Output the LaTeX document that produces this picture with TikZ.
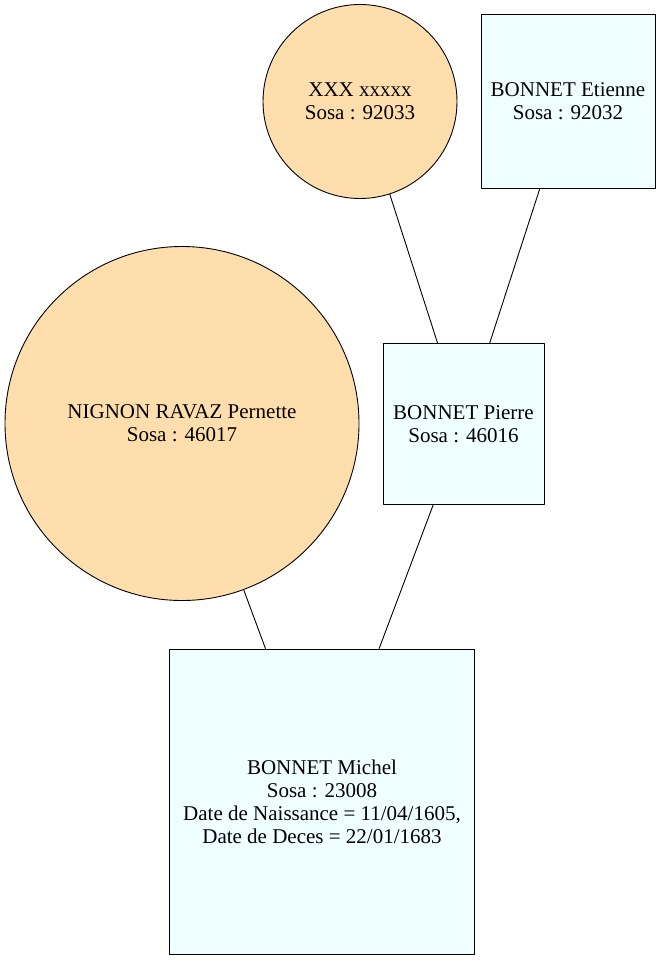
\documentclass[tikz,border=0pt]{standalone}
\usepackage{fontspec}
\setmainfont{Liberation Serif}
\definecolor{femme}{HTML}{FFDEAD}
\definecolor{homme}{HTML}{F0FFFF}
\begin{document}
\begin{tikzpicture}[x=1pt,y=-1pt,line join=round,line cap=round,
	pers/.style={draw=black,line width=0.9pt,align=center,inner sep=0pt,
		font=\fontsize{21}{23}\selectfont},
	femme/.style={pers,circle,fill=femme},
	homme/.style={pers,rectangle,fill=homme}]
	\useasboundingbox (0,0) rectangle (661,961);
	\node[femme,minimum size=194] (xxx) at (360,101.5) {XXX xxxxx\\Sosa : 92033};
	\node[homme,minimum size=174] (etienne) at (568,101.5) {BONNET Etienne\\Sosa : 92032};
	\node[femme,minimum size=354] (pernette) at (182,423.5) {NIGNON RAVAZ Pernette\\Sosa : 46017};
	\node[homme,minimum size=161] (pierre) at (463.5,424) {BONNET Pierre\\Sosa : 46016};
	\node[homme,minimum size=305] (michel) at (322,801.5) {BONNET Michel\\Sosa : 23008\\Date de Naissance = 11/04/1605,\\Date de Deces = 22/01/1683};
	\foreach \a/\b in {xxx/pierre,etienne/pierre,pernette/michel,pierre/michel}
	\draw[line width=0.9pt] (\a)--(\b);
\end{tikzpicture}
\end{document}
